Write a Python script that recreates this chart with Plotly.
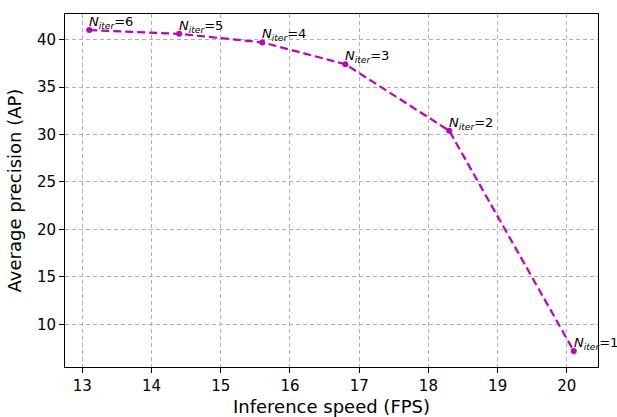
import plotly.graph_objects as go

fps = [13.1, 14.4, 15.6, 16.8, 18.3, 20.1]
ap = [41.0, 40.6, 39.7, 37.4, 30.4, 7.2]
n_iter = [6, 5, 4, 3, 2, 1]

color = "#bf00bf"
font = "DejaVu Sans"

fig = go.Figure()
fig.add_trace(go.Scatter(
    x=fps, y=ap, mode="lines+markers",
    line=dict(color=color, width=2.2, dash="8px,4px"),
    marker=dict(color=color, size=6),
    showlegend=False,
    cliponaxis=False,
))

for x, y, n in zip(fps, ap, n_iter):
    fig.add_annotation(
        x=x, y=y, xref="x", yref="y",
        text=f"<i>N</i><sub><i>iter</i></sub>={n}",
        showarrow=False, xanchor="left", yanchor="bottom",
        xshift=-2, yshift=-3,
        font=dict(family=font, size=13, color="black"),
    )

axis_common = dict(
    showline=True, linecolor="black", linewidth=1, mirror=True,
    ticks="outside", ticklen=5, tickcolor="black",
    showgrid=True, gridcolor="#b0b0b0", griddash="4px,3px", gridwidth=1,
    zeroline=False, automargin=False,
    tickfont=dict(family=font, size=15, color="black"),
)

fig.update_xaxes(
    range=[12.75, 20.45], tickvals=[13, 14, 15, 16, 17, 18, 19, 20],
    title=dict(text="Inference speed (FPS)", font=dict(family=font, size=18, color="black"), standoff=8),
    **axis_common,
)
fig.update_yaxes(
    range=[5.51, 42.69], tickvals=[10, 15, 20, 25, 30, 35, 40],
    title=dict(text="Average precision (AP)", font=dict(family=font, size=18, color="black"), standoff=10),
    **axis_common,
)

fig.update_layout(
    width=617, height=417,
    margin=dict(l=65, r=19, t=14, b=50),
    plot_bgcolor="white", paper_bgcolor="white",
    font=dict(family=font),
)

fig.write_html(
    "out.html",
    config={"displayModeBar": False},
    post_script="document.body.style.margin='0';document.body.style.overflow='hidden';",
)
